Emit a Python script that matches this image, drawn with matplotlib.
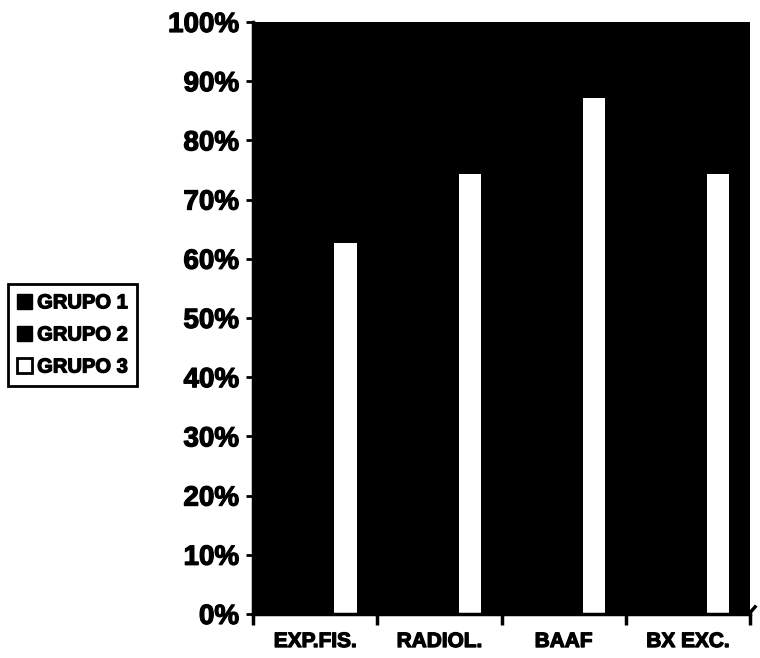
import numpy as np
import matplotlib
matplotlib.use("Agg")
import matplotlib.pyplot as plt
import matplotlib.patheffects as pe
from matplotlib.patches import Patch

plt.rcParams['font.family'] = ['Liberation Sans', 'DejaVu Sans']
plt.rcParams['font.weight'] = 'bold'

categories = ['EXP.FIS.', 'RADIOL.', 'BAAF', 'BX EXC.']
series_names = ['GRUPO 1', 'GRUPO 2', 'GRUPO 3']
grupo1 = [0.45, 0.55, 0.70, 0.60]
grupo2 = [0.50, 0.65, 0.80, 0.68]
grupo3 = [0.627, 0.743, 0.872, 0.743]
y_ticks = [0.0, 0.1, 0.2, 0.3, 0.4, 0.5, 0.6, 0.7, 0.8, 0.9, 1.0]

heavy = [pe.withStroke(linewidth=0.9, foreground='black')]

fig = plt.figure(figsize=(7.6, 6.58), dpi=100)
ax = fig.add_axes([0.333, 0.0669, 0.654, 0.8997])
ax.set_facecolor('black')

x = np.arange(len(categories))
offset = 0.244
width = 0.18
# groups 1 and 2 are black, so they sit invisibly on the black plot area
ax.bar(x - offset, grupo1, width, color='black')
ax.bar(x, grupo2, width, color='black')
ax.bar(x + offset, grupo3, width, color='white')

ax.set_xlim(-0.5, 3.5)
ax.set_ylim(0, 1.0)

ax.set_yticks(y_ticks)
ax.set_yticklabels([f'{int(round(v * 100))}%' for v in y_ticks], fontsize=20, fontweight='bold')
ax.tick_params(axis='y', length=5, width=2, pad=5)

ax.set_xticks(x)
ax.set_xticklabels(categories, fontsize=15, fontweight='bold')
ax.set_xticks(np.arange(-0.5, 4.0, 1.0), minor=True)
ax.tick_params(axis='x', which='major', length=0, pad=13)
ax.tick_params(axis='x', which='minor', length=8, width=2.5)

for lbl in ax.get_xticklabels() + ax.get_yticklabels():
    lbl.set_path_effects(heavy)

for side in ['left', 'bottom']:
    ax.spines[side].set_linewidth(2.5)
for side in ['top', 'right']:
    ax.spines[side].set_visible(False)

# small stroke at the end of the category axis
ax.plot([3.49, 3.54], [0.0, 0.012], color='black', lw=2.5, clip_on=False)

handles = [Patch(facecolor='black', edgecolor='black'),
           Patch(facecolor='black', edgecolor='black'),
           Patch(facecolor='white', edgecolor='black', linewidth=2)]
leg = fig.legend(handles, series_names, loc='upper left',
                 bbox_to_anchor=(0.0105, 0.568),
                 prop={'weight': 'bold', 'size': 14.5},
                 handlelength=0.75, handleheight=0.75, handletextpad=0.25,
                 labelspacing=0.65, borderpad=0.45, borderaxespad=0,
                 fancybox=False, framealpha=1)
leg.get_frame().set_edgecolor('black')
leg.get_frame().set_linewidth(2)
for t in leg.get_texts():
    t.set_path_effects(heavy)

fig.savefig('out.png', dpi=100)
